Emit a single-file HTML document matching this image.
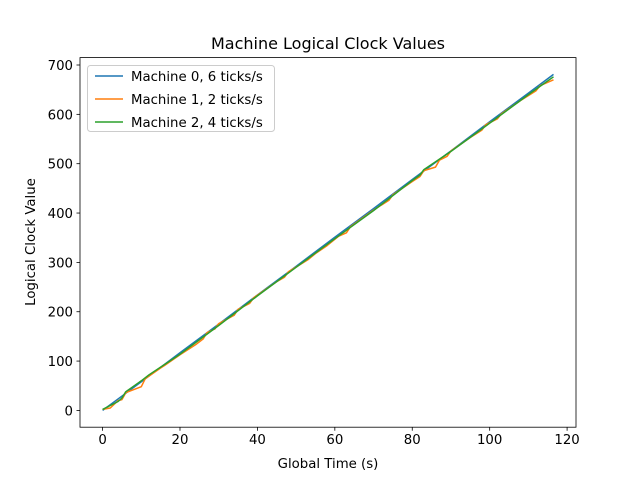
<!DOCTYPE html>
<html><head><meta charset="utf-8"><style>
body{margin:0;background:#fff;}
svg text{font-family:"DejaVu Sans","Liberation Sans",sans-serif;fill:#000;}
</style></head><body>
<svg id="chart" width="640" height="480" xmlns="http://www.w3.org/2000/svg">
<rect width="640" height="480" fill="#fff"/>
<text x="328" y="49" font-size="16" text-anchor="middle">Machine Logical Clock Values</text>
<g id="plot"></g>
<g id="axes"></g>
<text x="328" y="468" font-size="13.3" text-anchor="middle">Global Time (s)</text>
<text transform="translate(35,242) rotate(-90)" font-size="13.3" text-anchor="middle">Logical Clock Value</text>
<g>
<rect x="87.5" y="65.5" width="187" height="66" rx="3" fill="#fff" fill-opacity="0.8" stroke="#ccc"/>
<g><line x1="95" y1="76" x2="123" y2="76" stroke="#1f77b4" stroke-width="1.5"/><text x="131" y="81" font-size="13.3">Machine 0, 6 ticks/s</text></g>
<g><line x1="95" y1="99" x2="123" y2="99" stroke="#ff7f0e" stroke-width="1.5"/><text x="131" y="104" font-size="13.3">Machine 1, 2 ticks/s</text></g>
<g><line x1="95" y1="122" x2="123" y2="122" stroke="#2ca02c" stroke-width="1.5"/><text x="131" y="127" font-size="13.3">Machine 2, 4 ticks/s</text></g>
</g>
</svg>
<script>
const xTicks=[0,20,40,60,80,100,120];
const yTicks=[0,100,200,300,400,500,600,700];
const m0T=[0,10,20,30,40,50,60,70,80,90,100,110,116.5];
const m0V=[0,58,117,175,234,292,351,409,468,526,585,643,681];
const m1T=[0,2,4,5,6,10,11,15,16,20,24,26,27,29,30,34,35,38,39,45,47,48,53,55,58,61,63,64,70,74,75,80,82,83,86,87,89,90,95,98,99,102,103,108,112,113,116.5];
const m1V=[2,5,20,22,36,48,64,86,91,113,133,145,158,165,176,193,205,217,228,261,270,281,305,318,334,353,360,372,406,426,437,464,474,486,493,507,515,526,553,568,579,591,601,628,648,658,670];
const m2T=[0,4,5,6,10,12,20,30,40,50,60,70,80,82,83,90,100,110,116.5];
const m2V=[2,18,25,38,60,72,114,172,232,290,348,405,466,477,488,525,582,640,676];
const L=80,R=576,T=57.6,B=427.2,xmin=-5.83,xmax=122.3,ymin=-34,ymax=715;
const X=v=>L+(v-xmin)/(xmax-xmin)*(R-L);
const Y=v=>B-(v-ymin)/(ymax-ymin)*(B-T);
const NS="http://www.w3.org/2000/svg";
const plot=document.getElementById('plot'),axes=document.getElementById('axes');
function mk(tag,a,p){const e=document.createElementNS(NS,tag);for(const k in a)e.setAttribute(k,a[k]);p.appendChild(e);return e;}
const series=[[m0T,m0V,'#1f77b4','line-machine-0'],[m1T,m1V,'#ff7f0e','line-machine-1'],[m2T,m2V,'#2ca02c','line-machine-2']];
series.forEach(s=>{
 const d=s[0].map((t,i)=>(i?'L':'M')+X(t).toFixed(1)+','+Y(s[1][i]).toFixed(1)).join('');
 const p=mk('path',{d:d,fill:'none',stroke:s[2],'stroke-width':1.5,'stroke-linejoin':'round'},plot);
 
 
});
mk('rect',{x:L,y:T,width:R-L,height:B-T,fill:'none',stroke:'#000','stroke-width':0.8},axes);
xTicks.forEach(v=>{
 const x=X(v);
 mk('line',{x1:x,y1:B,x2:x,y2:B+3.5,stroke:'#000','stroke-width':0.8},axes);
 const t=mk('text',{x:x,y:B+17,'font-size':13.3,'text-anchor':'middle'},axes);t.textContent=v;
 
 
});
yTicks.forEach(v=>{
 const y=Y(v);
 mk('line',{x1:L,y1:y,x2:L-3.5,y2:y,stroke:'#000','stroke-width':0.8},axes);
 const t=mk('text',{x:L-7,y:y+5,'font-size':13.3,'text-anchor':'end'},axes);t.textContent=v;
 
 
});
</script>
</body></html>
